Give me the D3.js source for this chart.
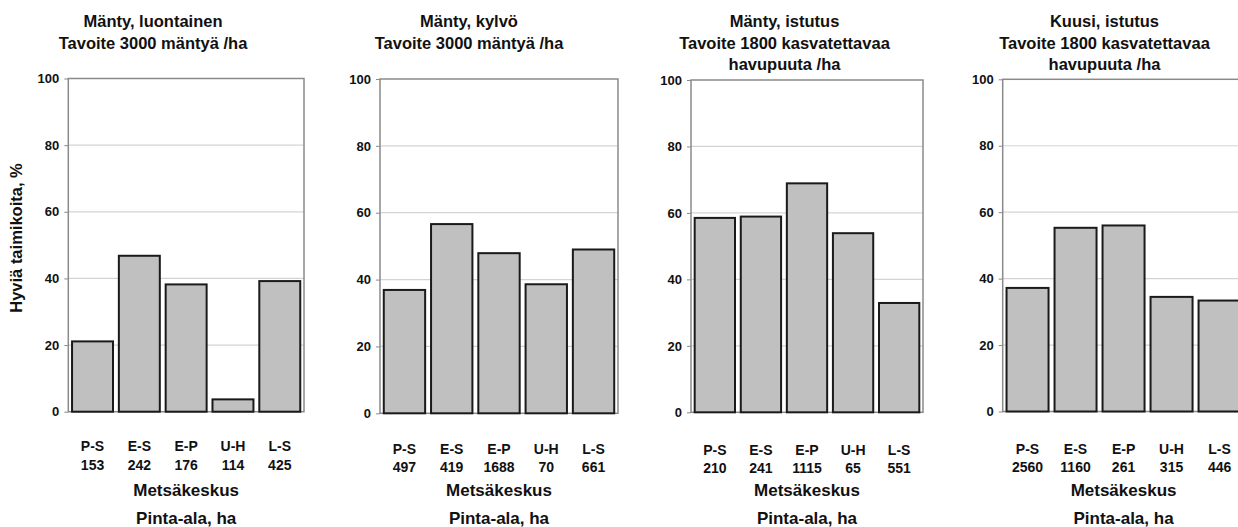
<!DOCTYPE html>
<html><head><meta charset="utf-8">
<script src="https://cdn.jsdelivr.net/npm/d3@7"></script>
<style>body{margin:0;background:#fff}svg{display:block;font-family:"Liberation Sans",Arial,sans-serif;font-weight:bold}</style>
</head><body><svg id="c" width="1238" height="527"></svg>
<script>
const categories = ["P-S","E-S","E-P","U-H","L-S"];
const yTicks = [0,20,40,60,80,100];
const titles1 = ["Mänty, luontainen","Tavoite 3000 mäntyä /ha"];
const titles2 = ["Mänty, kylvö","Tavoite 3000 mäntyä /ha"];
const titles3 = ["Mänty, istutus","Tavoite 1800 kasvatettavaa","havupuuta /ha"];
const titles4 = ["Kuusi, istutus","Tavoite 1800 kasvatettavaa","havupuuta /ha"];
const values1 = [21.1, 46.8, 38.2, 3.7, 39.2];
const values2 = [36.9, 56.6, 47.9, 38.6, 49.0];
const values3 = [58.5, 58.9, 68.9, 53.9, 32.9];
const values4 = [37.2, 55.3, 56.0, 34.5, 33.4];
const areas1 = ["153","242","176","114","425"];
const areas2 = ["497","419","1688","70","661"];
const areas3 = ["210","241","1115","65","551"];
const areas4 = ["2560","1160","261","315","446"];
const xTitle = "Metsäkeskus";
const xTitle2 = "Pinta-ala, ha";
const yTitle = "Hyviä taimikoita, %";

const panels = [
  {titles:titles1, values:values1, areas:areas1, x0:68.3, x1:304, yTop:78.5, yBot:411.7, tx:153, catY:451, numY:470},
  {titles:titles2, values:values2, areas:areas2, x0:380, x1:618, yTop:79, yBot:413.3, tx:469, catY:454, numY:472},
  {titles:titles3, values:values3, areas:areas3, x0:691, x1:923, yTop:80, yBot:412.3, tx:784.5, catY:455, numY:473},
  {titles:titles4, values:values4, areas:areas4, x0:1002.7, x1:1244.4, yTop:79.3, yBot:411.5, tx:1104.5, catY:454, numY:472}
];

const svg = d3.select("#c");
svg.append("rect").attr("width",1238).attr("height",527).attr("fill","#fff");

panels.forEach((p,pi)=>{
  const g = svg.append("g");
  const x = d3.scaleBand().domain(categories).range([p.x0,p.x1]).paddingInner(0.125).paddingOuter(0.08);
  const y = d3.scaleLinear().domain([0,100]).range([p.yBot,p.yTop]);
  // grid
  g.selectAll(".grid").data(yTicks.filter(t=>t>0&&t<100)).join("line")
    .attr("x1",p.x0).attr("x2",p.x1).attr("y1",d=>y(d)).attr("y2",d=>y(d))
    .attr("stroke","#d4d4d4").attr("stroke-width",1.2);
  // frame
  g.append("rect").attr("x",p.x0).attr("y",y(100)).attr("width",p.x1-p.x0).attr("height",y(0)-y(100))
    .attr("fill","none").attr("stroke","#8a8a8a").attr("stroke-width",1.5);
  // y axis
  const ax = g.append("g").attr("transform",`translate(${p.x0},0)`)
    .call(d3.axisLeft(y).tickValues(yTicks).tickSize(4).tickPadding(5));
  ax.select(".domain").remove();
  ax.selectAll(".tick line").attr("stroke","#8a8a8a");
  ax.selectAll(".tick text").attr("font-size",13).attr("font-weight","bold").attr("fill","#111")
    .attr("font-family","'Liberation Sans',Arial,sans-serif");
  // bars
  g.selectAll(".bar").data(p.values).join("rect")
    .attr("x",(d,i)=>x(categories[i])).attr("width",x.bandwidth())
    .attr("y",d=>y(d)).attr("height",d=>y(0)-y(d))
    .attr("fill","#c0c0c0").attr("stroke","#1a1a1a").attr("stroke-width",2);
  // category labels
  g.selectAll(".cat").data(categories).join("text")
    .attr("x",d=>x(d)+x.bandwidth()/2).attr("y",p.catY).attr("text-anchor","middle")
    .attr("font-size",14).attr("fill","#111").text(d=>d);
  g.selectAll(".num").data(p.areas).join("text")
    .attr("x",(d,i)=>x(categories[i])+x.bandwidth()/2).attr("y",p.numY).attr("text-anchor","middle")
    .attr("font-size",14).attr("fill","#111").text(d=>d);
  const cx = (p.x0+Math.min(p.x1,1241))/2;
  g.append("text").attr("x",(p.x0+p.x1)/2).attr("y",496).attr("text-anchor","middle")
    .attr("font-size",17).attr("fill","#111").text(xTitle);
  g.append("text").attr("x",(p.x0+p.x1)/2).attr("y",524).attr("text-anchor","middle")
    .attr("font-size",17).attr("fill","#111").text(xTitle2);
  // titles
  p.titles.forEach((t,i)=>{
    g.append("text").attr("x",p.tx).attr("y",27+i*21.5).attr("text-anchor","middle")
      .attr("font-size",16.5).attr("fill","#111").text(t);
  });
  if(pi===0){
    g.append("text").attr("transform","translate(22,238) rotate(-90)").attr("text-anchor","middle")
      .attr("font-size",16.5).attr("fill","#111").text(yTitle);
  }
});
</script></body></html>
